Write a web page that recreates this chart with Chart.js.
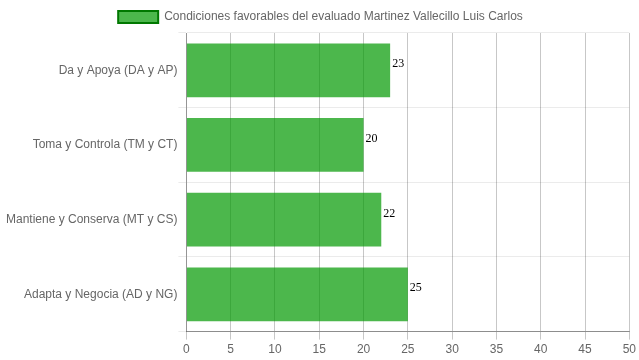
<!DOCTYPE html>
<html>
<head>
<meta charset="utf-8">
<script src="https://cdn.jsdelivr.net/npm/chart.js@4"></script>
<style>
  body { margin: 0; background: #fff; }
  #wrap { width: 639px; height: 360px; }
</style>
</head>
<body>
<div id="wrap"><canvas id="myChart"></canvas></div>
<script>
var categories = ["Da y Apoya (DA y AP)", "Toma y Controla (TM y CT)", "Mantiene y Conserva (MT y CS)", "Adapta y Negocia (AD y NG)"];
var values = [23, 20, 22, 25];
var seriesLabel = "Condiciones favorables del evaluado Martinez Vallecillo Luis Carlos";
var xTicks = [0, 5, 10, 15, 20, 25, 30, 35, 40, 45, 50];

Chart.defaults.font.family = "'Liberation Sans', Arial, sans-serif";
Chart.defaults.font.size = 12;
Chart.defaults.color = '#666';

// write the value next to each bar
var valueLabels = {
    id: 'valueLabels',
    afterDatasetsDraw: function (chart) {
        var ctx = chart.ctx;
        ctx.save();
        ctx.font = "12px 'Liberation Serif', 'Times New Roman', serif";
        ctx.fillStyle = '#000';
        ctx.textAlign = 'left';
        ctx.textBaseline = 'middle';
        chart.getDatasetMeta(0).data.forEach(function (bar, i) {
            ctx.fillText(values[i], bar.x + 2, bar.y - 6);
        });
        ctx.restore();
    }
};

var ctx = document.getElementById('myChart').getContext('2d');
var chart = new Chart(ctx, {
    type: 'bar',
    data: {
        labels: categories,
        datasets: [{
            label: seriesLabel,
            data: values,
            backgroundColor: 'rgba(0, 153, 0, 0.7)',
            borderColor: 'rgb(0, 120, 0)',
            borderWidth: 2,
            borderSkipped: true
        }]
    },
    options: {
        indexAxis: 'y',
        responsive: true,
        maintainAspectRatio: false,
        animation: false,
        layout: { padding: { left: 5, right: 3, top: 1 } },
        plugins: {
            legend: {
                labels: { boxWidth: 40, boxHeight: 12, padding: 10 }
            },
            tooltip: { enabled: false }
        },
        scales: {
            x: {
                min: 0,
                max: 50,
                afterBuildTicks: function (axis) {
                    axis.ticks = xTicks.map(function (v) { return { value: v }; });
                },
                grid: { color: 'rgba(0, 0, 0, 0.22)' },
                border: { color: 'rgba(0, 0, 0, 0.4)' }
            },
            y: {
                ticks: { padding: 1 },
                grid: { color: 'rgba(0, 0, 0, 0.08)' },
                border: { color: 'rgba(0, 0, 0, 0.25)' }
            }
        }
    },
    plugins: [valueLabels]
});
</script>
</body>
</html>
